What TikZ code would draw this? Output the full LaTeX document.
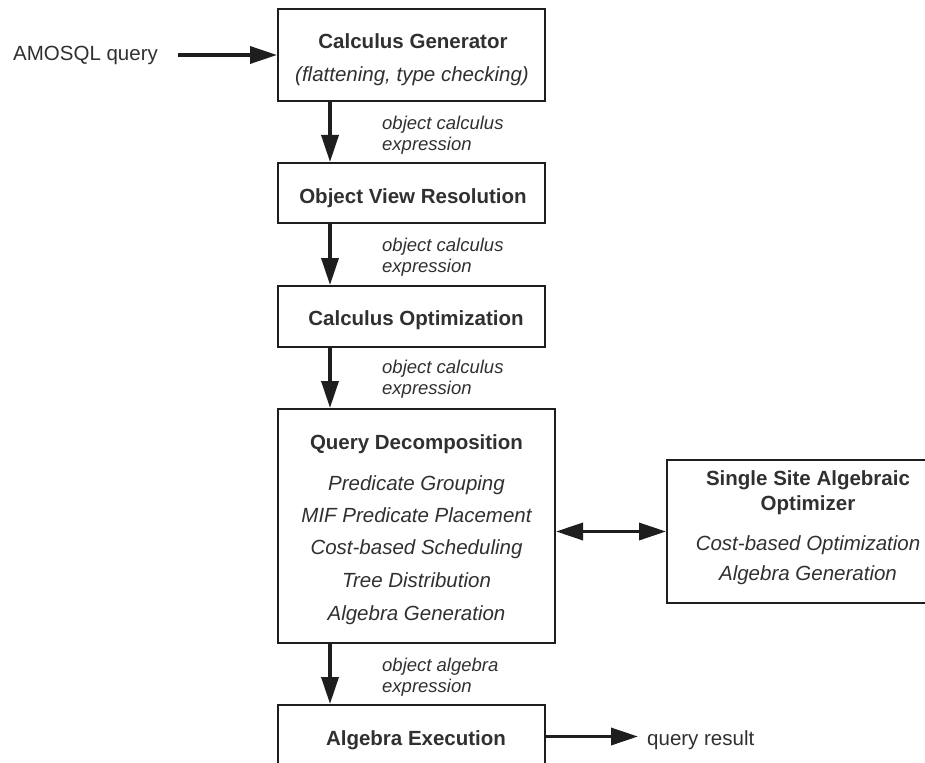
\documentclass[tikz,border=0pt]{standalone}
\usepackage{fontspec}
\setmainfont{Liberation Sans}
\usetikzlibrary{arrows.meta}
\definecolor{ink}{HTML}{1E1E1E}
\definecolor{txt}{HTML}{303030}
\begin{document}
\begin{tikzpicture}[x=1pt,y=-1pt,
  box/.style={draw=ink,line width=2pt,inner sep=0pt},
  title/.style={font=\bfseries\fontsize{20.5}{24}\selectfont,text=txt,inner sep=0pt,anchor=base},
  item/.style={font=\itshape\fontsize{20.5}{24}\selectfont,text=txt,inner sep=0pt,anchor=base},
  plain/.style={font=\fontsize{20.5}{24}\selectfont,text=txt,inner sep=0pt,anchor=base west},
  flowlabel/.style={font=\itshape\fontsize{18.5}{20.5}\selectfont,text=txt,inner sep=0pt,align=left,anchor=base west},
  arr/.style={draw=ink,line width=3.5pt,-{Triangle[length=27pt,width=17pt]}},
  darr/.style={draw=ink,line width=3.5pt,{Triangle[length=27pt,width=17pt]}-{Triangle[length=27pt,width=17pt]}},
]
\useasboundingbox (0,0) rectangle (925,762);
\clip (0,0) rectangle (925,762);

% processing stages
\node[box,minimum width=267pt,minimum height=92pt] (cg) at (411.5,55) {};
\node[title] (cgtitle) at (413,49) {Calculus Generator};
\node[item] (cgsub) at (412,82) {(flattening, type checking)};

\node[box,minimum width=267pt,minimum height=60pt] (ovr) at (411.5,193) {};
\node[title] (ovrtitle) at (413,203) {Object View Resolution};

\node[box,minimum width=267pt,minimum height=61pt] (co) at (411.5,316.5) {};
\node[title] (cotitle) at (416,325) {Calculus Optimization};

\node[box,minimum width=277pt,minimum height=234pt] (qd) at (416.5,526) {};
\node[title] (qdtitle) at (416.5,449) {Query Decomposition};
\node[item] (qd1) at (416.5,490) {Predicate Grouping};
\node[item] (qd2) at (416.5,522) {MIF Predicate Placement};
\node[item] (qd3) at (416.5,554) {Cost-based Scheduling};
\node[item] (qd4) at (416.5,587) {Tree Distribution};
\node[item] (qd5) at (416.5,620) {Algebra Generation};

\node[box,minimum width=282pt,minimum height=143pt] (ss) at (808,531.5) {};
\node[title] (sstitle1) at (808,485) {Single Site Algebraic};
\node[title] (sstitle2) at (808,510) {Optimizer};
\node[item] (ss1) at (808,550) {Cost-based Optimization};
\node[item] (ss2) at (808,580) {Algebra Generation};

\node[box,minimum width=267pt,minimum height=67pt] (ae) at (411.5,738.5) {};
\node[title] (aetitle) at (416,745) {Algebra Execution};

% input and output
\node[plain] (src) at (13,61) {AMOSQL query};
\node[plain] (res) at (647,745) {query result};

% data flow
\coordinate (spine) at (330,0);
\draw[arr,shorten <=20pt] (src.east |- cg.west) -- (cg.west);
\draw[arr] (spine |- cg.south) -- (spine |- ovr.north);
\draw[arr] (spine |- ovr.south) -- (spine |- co.north);
\draw[arr] (spine |- co.south) -- (spine |- qd.north);
\draw[arr] (spine |- qd.south) -- (spine |- ae.north);
\draw[darr] (qd.east |- ss.west) -- (ss.west);
\draw[arr,shorten >=9pt] ([yshift=2pt]ae.east) -- ([yshift=2pt]ae.east -| res.west);

% flow labels (anchored at the baseline of their second line)
\node[flowlabel] (lab1) at (382,150) {object calculus\\expression};
\node[flowlabel] (lab2) at (382,272) {object calculus\\expression};
\node[flowlabel] (lab3) at (382,394) {object calculus\\expression};
\node[flowlabel] (lab4) at (382,692) {object algebra\\expression};
\end{tikzpicture}
\end{document}
